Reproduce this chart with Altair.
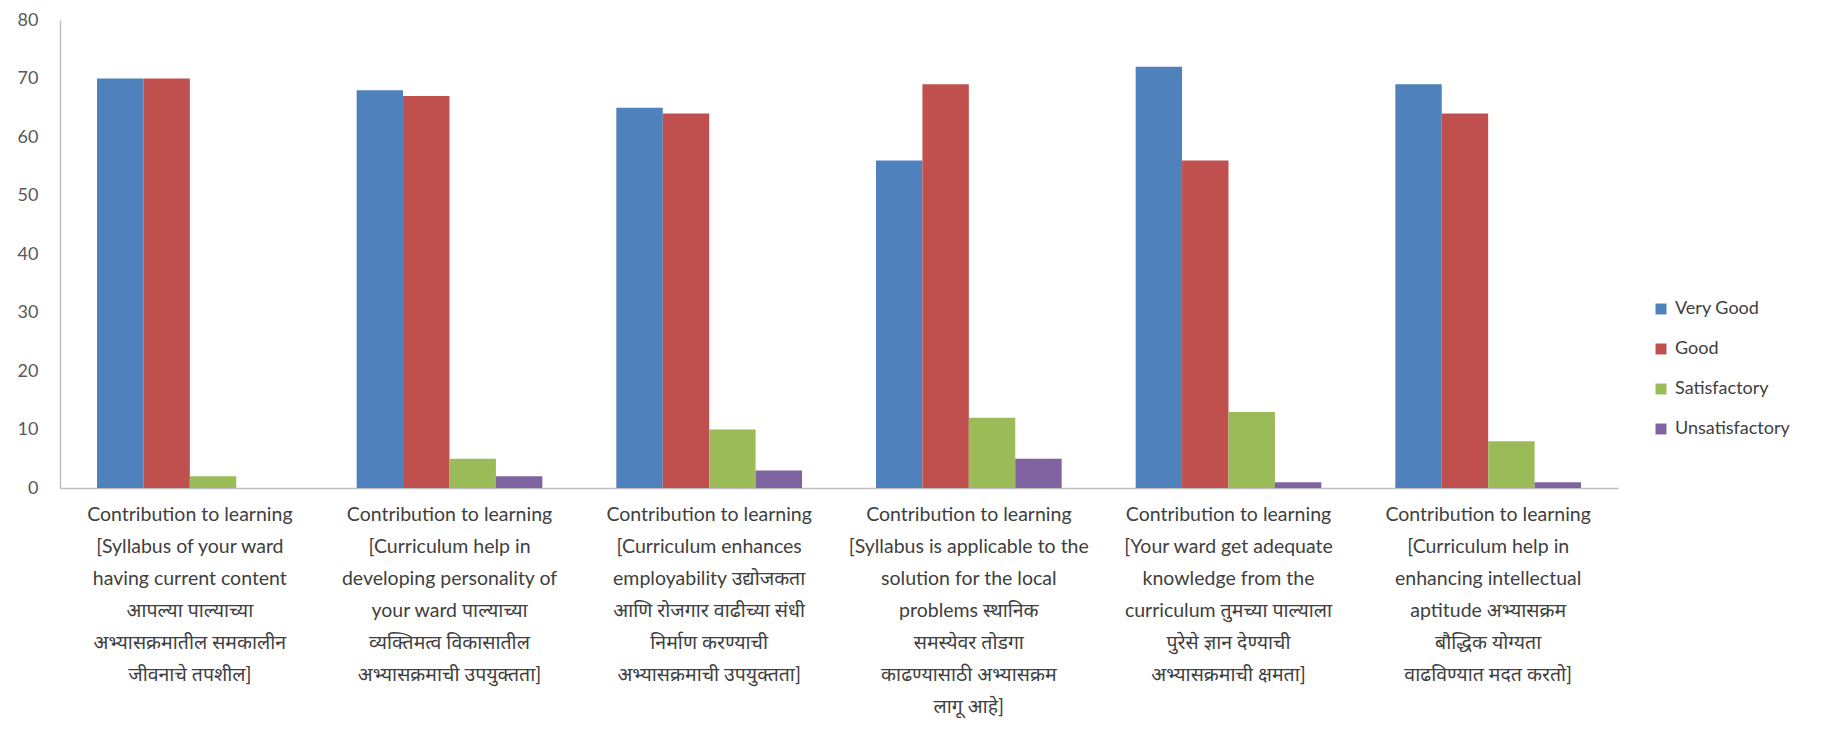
import altair as alt
import pandas as pd

categories = [
    "Contribution to learning|[Syllabus of your ward|having current content|आपल्या पाल्याच्या|अभ्यासक्रमातील समकालीन|जीवनाचे तपशील]",
    "Contribution to learning|[Curriculum help in|developing personality of|your ward पाल्याच्या|व्यक्तिमत्व विकासातील|अभ्यासक्रमाची उपयुक्तता]",
    "Contribution to learning|[Curriculum enhances|employability उद्योजकता|आणि रोजगार वाढीच्या संधी|निर्माण करण्याची|अभ्यासक्रमाची उपयुक्तता]",
    "Contribution to learning|[Syllabus is applicable to the|solution for the local|problems स्थानिक|समस्येवर तोडगा|काढण्यासाठी अभ्यासक्रम|लागू आहे]",
    "Contribution to learning|[Your ward get adequate|knowledge from the|curriculum तुमच्या पाल्याला|पुरेसे ज्ञान देण्याची|अभ्यासक्रमाची क्षमता]",
    "Contribution to learning|[Curriculum help in|enhancing intellectual|aptitude अभ्यासक्रम|बौद्धिक योग्यता|वाढविण्यात मदत करतो]",
]
series = ["Very Good", "Good", "Satisfactory", "Unsatisfactory"]
very_good = [70, 68, 65, 56, 72, 69]
good = [70, 67, 64, 69, 56, 64]
satisfactory = [2, 5, 10, 12, 13, 8]
unsatisfactory = [0, 2, 3, 5, 1, 1]
colors = ["#4F81BD", "#C0504D", "#9BBB59", "#8064A2"]

rows = []
for name, vals in zip(series, [very_good, good, satisfactory, unsatisfactory]):
    for c, v in zip(categories, vals):
        rows.append({"category": c, "series": name, "value": v})
df = pd.DataFrame(rows)

FONT = "Lato, 'Noto Sans Devanagari', 'Noto Sans', sans-serif"

chart = alt.Chart(df).mark_bar().encode(
    x=alt.X("category:N", sort=categories, title=None,
            scale=alt.Scale(paddingInner=0.285, paddingOuter=0.1425),
            axis=alt.Axis(labelExpr="split(datum.label, '|')", labelAngle=0,
                          labelAlign="center", labelBaseline="top",
                          labelPadding=17, labelLimit=400, labelFontSize=19.5,
                          labelLineHeight=32, labelColor="#404040",
                          labelFont=FONT, ticks=False,
                          domainColor="#BFBFBF", domainWidth=1.5)),
    xOffset=alt.XOffset("series:N", sort=series),
    y=alt.Y("value:Q", title=None,
            scale=alt.Scale(domain=[0, 80], nice=False),
            axis=alt.Axis(values=list(range(0, 81, 10)), grid=False, ticks=False,
                          labelPadding=22, labelFontSize=18, labelColor="#595959",
                          labelFont=FONT, domainColor="#BFBFBF", domainWidth=1.5)),
    color=alt.Color("series:N", sort=series,
                    scale=alt.Scale(domain=series, range=colors),
                    legend=alt.Legend(title=None, orient="none", legendX=1592, legendY=280,
                                      symbolType="square", symbolSize=120,
                                      labelFontSize=18, labelColor="#404040",
                                      labelFont=FONT, rowPadding=22,
                                      symbolStrokeWidth=0, labelOffset=5)),
).properties(
    width=1558, height=468,
    background="white",
    autosize=alt.AutoSizeParams(type="none"),
    padding={"left": 52, "top": 12, "right": 190, "bottom": 230},
).configure_view(stroke=None)

chart.save("out.html", embed_options={"renderer": "svg", "actions": False})
